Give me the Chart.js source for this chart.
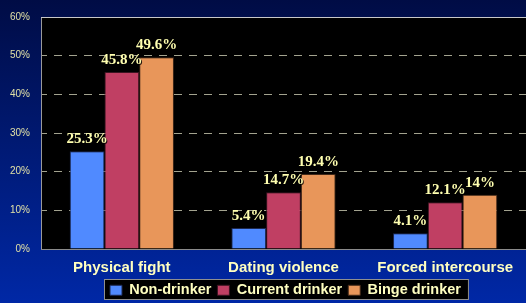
<!DOCTYPE html>
<html><head><meta charset="utf-8">
<style>html,body{margin:0;padding:0;background:#001a70;}#wrap{width:526px;height:303px;position:relative}</style>
<script src="https://cdn.jsdelivr.net/npm/chart.js@4/dist/chart.umd.min.js"></script>
</head><body><div id="wrap"><canvas id="c" width="526" height="303"></canvas></div>
<script>
const categories = ['Physical fight', 'Dating violence', 'Forced intercourse'];
const seriesNames = ['Non-drinker', 'Current drinker', 'Binge drinker'];
const nonDrinker = [25.3, 5.4, 4.1];
const currentDrinker = [45.8, 14.7, 12.1];
const bingeDrinker = [49.6, 19.4, 14];
const nonDrinkerLabels = ['25.3%', '5.4%', '4.1%'];
const currentDrinkerLabels = ['45.8%', '14.7%', '12.1%'];
const bingeDrinkerLabels = ['49.6%', '19.4%', '14%'];
const yTickValues = [0, 10, 20, 30, 40, 50, 60];

const seriesColors = ['#508aff', '#c03f63', '#e8965a'];
const valueLabelSets = [nonDrinkerLabels, currentDrinkerLabels, bingeDrinkerLabels];

const backgroundPlugin = {
  id: 'bgPlugin',
  afterUpdate(chart) {
    const lg = chart.legend;
    if (lg && lg.legendHitBoxes && lg.legendHitBoxes.length) {
      const dx = 110 - lg.legendHitBoxes[0].left;
      lg.left += dx; lg.right += dx;
      lg.legendHitBoxes.forEach(h => { h.left += dx; });
    }
  },
  beforeDraw(chart) {
    const ctx = chart.ctx;
    const g = ctx.createLinearGradient(0, 0, 0, chart.height);
    g.addColorStop(0, '#000c45');
    g.addColorStop(1, '#0028a6');
    ctx.save();
    ctx.fillStyle = g;
    ctx.fillRect(0, 0, chart.width, chart.height);
    const a = chart.chartArea;
    ctx.fillStyle = '#000000';
    ctx.fillRect(a.left, a.top, a.right - a.left, a.bottom - a.top);
    const lg = chart.legend;
    if (lg && lg.legendHitBoxes && lg.legendHitBoxes.length) {
      const hb = lg.legendHitBoxes;
      const x0 = hb[0].left - 6;
      const last = hb[hb.length - 1];
      const x1 = last.left + last.width + 8;
      const y0 = 279, y1 = 300;
      ctx.fillStyle = '#000000';
      ctx.fillRect(x0, y0, x1 - x0, y1 - y0);
      ctx.strokeStyle = '#8f8f8f';
      ctx.lineWidth = 1;
      ctx.strokeRect(x0 + 0.5, y0 + 0.5, x1 - x0 - 1, y1 - y0 - 1);
    }
    ctx.restore();
  },
  afterDatasetsDraw(chart) {
    const ctx = chart.ctx;
    const a = chart.chartArea;
    ctx.save();
    ctx.strokeStyle = '#9a9a9a';
    ctx.lineWidth = 1;
    ctx.beginPath();
    ctx.moveTo(a.left + 0.5, a.bottom + 0.5);
    ctx.lineTo(a.left + 0.5, a.top + 0.5);
    ctx.stroke();
    ctx.strokeStyle = '#c8c8c8';
    ctx.beginPath();
    ctx.moveTo(a.left, a.top + 0.5);
    ctx.lineTo(a.right, a.top + 0.5);
    ctx.stroke();
    ctx.strokeStyle = '#8a8a8a';
    ctx.beginPath();
    ctx.moveTo(a.left, a.bottom + 0.5);
    ctx.lineTo(a.right, a.bottom + 0.5);
    ctx.stroke();
    ctx.font = 'bold 15px "Liberation Serif", "Times New Roman", serif';
    ctx.textAlign = 'center';
    ctx.textBaseline = 'middle';
    chart.data.datasets.forEach((ds, di) => {
      const meta = chart.getDatasetMeta(di);
      meta.data.forEach((bar, i) => {
        const txt = valueLabelSets[di][i];
        ctx.fillStyle = 'rgba(0,0,0,0.85)';
        ctx.fillText(txt, bar.x + 1, bar.y - 12 + 1);
        ctx.fillStyle = '#ffffb0';
        ctx.fillText(txt, bar.x, bar.y - 12);
      });
    });
    ctx.restore();
  }
};

const ctx = document.getElementById('c').getContext('2d');
new Chart(ctx, {
  type: 'bar',
  data: {
    labels: categories,
    datasets: [
      { label: seriesNames[0], data: nonDrinker, backgroundColor: seriesColors[0], borderColor: '#1c2850', borderWidth: 1 },
      { label: seriesNames[1], data: currentDrinker, backgroundColor: seriesColors[1], borderColor: '#3a1420', borderWidth: 1 },
      { label: seriesNames[2], data: bingeDrinker, backgroundColor: seriesColors[2], borderColor: '#402818', borderWidth: 1 }
    ]
  },
  options: {
    responsive: false,
    animation: false,
    events: [],
    layout: { padding: { top: 13, right: -4, left: 0, bottom: -4.5 } },
    datasets: { bar: { categoryPercentage: 0.645, barPercentage: 1 } },
    plugins: {
      tooltip: { enabled: false },
      legend: {
        position: 'bottom',
        labels: {
          boxWidth: 12, boxHeight: 10, padding: 6,
          color: '#ffffc0',
          font: { family: '"Liberation Sans", Arial, sans-serif', size: 14.5, weight: 'bold' }
        }
      }
    },
    scales: {
      x: {
        afterFit(scale) { scale.height = 28; },
        grid: { display: false, drawTicks: false },
        border: { display: false },
        ticks: {
          color: '#ffffc0', padding: 10,
          font: { family: '"Liberation Sans", Arial, sans-serif', size: 15, weight: 'bold' }
        }
      },
      y: {
        min: 0, max: 60,
        afterBuildTicks(scale) { scale.ticks = yTickValues.map(v => ({ value: v })); },
        afterFit(scale) { scale.width = 41; },
        grid: {
          drawTicks: false,
          color: (c) => (c.tick && (c.tick.value === 0 || c.tick.value === 60)) ? 'rgba(0,0,0,0)' : '#a3a38f',
          lineWidth: 1
        },
        border: { display: false, dash: [8, 7], dashOffset: 2 },
        ticks: {
          color: '#e0e0a6', padding: 11,
          font: { family: '"Liberation Sans", Arial, sans-serif', size: 10 },
          callback: (v) => v + '%'
        }
      }
    }
  },
  plugins: [backgroundPlugin]
});
</script>
</body></html>
